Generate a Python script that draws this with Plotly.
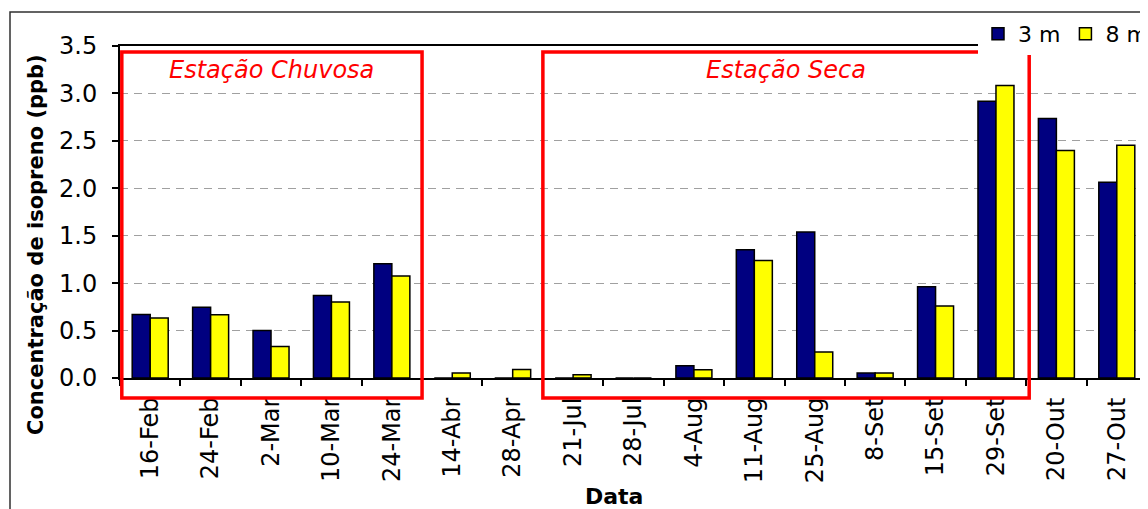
import plotly.graph_objects as go

categories = ["16-Feb", "24-Feb", "2-Mar", "10-Mar", "24-Mar", "14-Abr", "28-Apr",
              "21-Jul", "28-Jul", "4-Aug", "11-Aug", "25-Aug", "8-Set", "15-Set",
              "29-Set", "20-Out", "27-Out"]
vals_3m = [0.67, 0.745, 0.50, 0.87, 1.205, 0.0, 0.0, 0.0, 0.0, 0.13, 1.353, 1.54,
           0.053, 0.963, 2.918, 2.735, 2.063]
vals_8m = [0.633, 0.667, 0.333, 0.80, 1.075, 0.053, 0.09, 0.035, 0.0, 0.088, 1.24, 0.274,
           0.053, 0.76, 3.083, 2.398, 2.454]
y_ticks = [0.0, 0.5, 1.0, 1.5, 2.0, 2.5, 3.0, 3.5]

# season boxes, in category-index units (left edge, right edge, label centre)
seasons = [("Estação Chuvosa", -0.47, 4.5, 2.0), ("Estação Seca", 6.5, 14.55, 10.52)]

FONT = "DejaVu Sans"
N = len(categories)
OFF = 8                      # default page margin of the html body
W, H = 1148 - OFF, 509 - OFF
L, R, T, B = 120 - OFF, 1, 46 - OFF, 131
plot_w = W - L - R
plot_h = H - T - B


def idx_to_paper(i):
    return (i + 0.5) / N


def px_x(p):
    return (p - OFF - L) / plot_w


def px_y(p):
    return (H - B - (p - OFF)) / plot_h


fig = go.Figure()
fig.add_trace(go.Bar(name="3 m", x=categories, y=vals_3m,
                     marker=dict(color="#000080", line=dict(color="black", width=1.5))))
fig.add_trace(go.Bar(name="8 m", x=categories, y=vals_8m,
                     marker=dict(color="#FFFF00", line=dict(color="black", width=1.5))))

shapes = []
annotations = []
for label, i0, i1, ic in seasons:
    shapes.append(dict(type="rect", xref="paper", yref="paper",
                       x0=idx_to_paper(i0), x1=idx_to_paper(i1),
                       y0=px_y(398), y1=px_y(52),
                       line=dict(color="#FF0000", width=3.5), fillcolor="rgba(0,0,0,0)",
                       layer="above"))
    annotations.append(dict(text=f"<i>{label}</i>", xref="paper", yref="paper",
                            x=idx_to_paper(ic), y=px_y(70), showarrow=False,
                            xanchor="center", yanchor="middle",
                            font=dict(family=FONT, size=24, color="#FF0000")))

# outer chart border (left and top edges visible)
shapes.append(dict(type="rect", xref="paper", yref="paper",
                   x0=px_x(10), x1=px_x(1170), y0=px_y(530), y1=px_y(12),
                   line=dict(color="#303030", width=1.5), fillcolor="rgba(0,0,0,0)"))

annotations.append(dict(text="<b>Concentração de isopreno (ppb)</b>", xref="paper", yref="paper",
                        x=px_x(36), y=px_y(245), textangle=-90, showarrow=False,
                        xanchor="center", yanchor="middle",
                        font=dict(family=FONT, size=21, color="black")))
annotations.append(dict(text="<b>Data</b>", xref="paper", yref="paper",
                        x=px_x(614), y=px_y(496), showarrow=False,
                        xanchor="center", yanchor="middle",
                        font=dict(family=FONT, size=22, color="black")))

fig.update_layout(
    width=W, height=H, autosize=False,
    margin=dict(l=L, r=R, t=T, b=B, pad=0, autoexpand=False),
    paper_bgcolor="white", plot_bgcolor="white",
    barmode="group", bargap=0.404, bargroupgap=0.0,
    font=dict(family=FONT, color="black"),
    shapes=shapes, annotations=annotations,
    legend=dict(orientation="h", x=px_x(978), xanchor="left", y=px_y(13), yanchor="top",
                bgcolor="white", borderwidth=0, font=dict(family=FONT, size=22),
                itemwidth=30, traceorder="normal"),
    xaxis=dict(type="category", categoryorder="array", categoryarray=categories,
               tickangle=-90, tickson="boundaries", ticks="outside", ticklen=6,
               tickcolor="black", tickwidth=1.5,
               tickfont=dict(family=FONT, size=24), automargin=False,
               showline=True, linecolor="black", linewidth=2, mirror=True,
               showgrid=False, ticklabelstandoff=8),
    yaxis=dict(range=[0, 3.5], tickvals=y_ticks, tickformat=".1f",
               ticks="outside", ticklen=6, tickcolor="black", tickwidth=1.5,
               tickfont=dict(family=FONT, size=24), automargin=False,
               showline=True, linecolor="black", linewidth=2, mirror=True,
               showgrid=True, gridcolor="#A0A0A0", griddash="8px,6px", gridwidth=1,
               zeroline=False, ticklabelstandoff=10),
)

fig.write_html("out.html")
